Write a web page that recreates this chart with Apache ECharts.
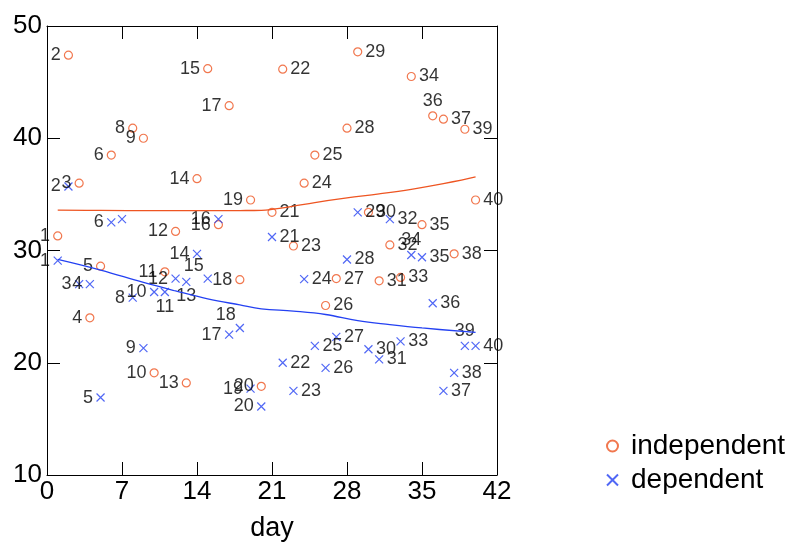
<!DOCTYPE html>
<html>
<head>
<meta charset="utf-8">
<script src="https://cdn.jsdelivr.net/npm/echarts@6/dist/echarts.min.js"></script>
<style>
html,body{margin:0;padding:0;background:#fff;}
#chart{width:789px;height:545px;}
</style>
</head>
<body>
<div id="chart"></div>
<script>
// ---- data ----
const days = [1,2,3,4,5,6,7,8,9,10,11,12,13,14,15,16,17,18,19,20,21,22,23,24,25,26,27,28,29,30,31,32,33,34,35,36,37,38,39,40];
const independent = [31.3,47.4,36.0,24.0,28.6,38.5,null,40.9,40.0,19.1,28.1,31.7,18.2,36.4,46.2,32.3,42.9,27.4,34.5,17.9,33.4,46.15,30.4,36.0,38.5,25.1,27.5,40.9,47.7,33.4,27.3,30.5,27.6,45.5,32.3,42.0,41.7,29.7,40.8,34.5];
const dependent = [29.1,35.7,27.0,27.0,16.9,32.5,32.8,25.8,21.3,26.3,26.3,27.5,27.2,29.7,27.5,32.8,22.5,23.1,17.7,16.1,31.2,20.0,17.5,27.45,21.5,19.55,22.3,29.2,33.4,21.2,20.3,32.8,21.9,29.6,29.4,25.3,17.5,19.1,21.5,21.5];
const indepFitX = [1,5,10,15,18,20,21,22,23,25,28,31,34,37,40];
const indepFitY = [33.6,33.57,33.55,33.55,33.56,33.58,33.66,33.8,33.95,34.27,34.68,35.04,35.45,35.95,36.55];
const depFitX = [1,5,9,12,15,18,20,23,26,29,32,35,40];
const depFitY = [29.2,28.25,27.15,26.4,25.7,25.15,24.8,24.6,24.3,23.75,23.4,23.1,22.7];
const xTicks = [0,7,14,21,28,35,42];
const yTicks = [10,20,30,40,50];
const seriesNames = ['independent','dependent'];
const xName = 'day';

// ---- label placement (style) ----
const indepSide = 'LLLLLLLLLLLLLLLLLLLLRRRRRRRRRRRRRRRTRRRR';
const depSide   = 'LLLLLLNLLLBLBLQLLQLLRRRRRRRRRRRRRTRRRRTR';
const orange = '#EE5522';
const blue = '#2441F2';
const FONT = 'Liberation Sans, Arial, sans-serif';

function labelFor(side){
  const base = {show:true, fontSize:18, color:'#000', fontFamily:FONT, distance:3, formatter:'{b}'};
  switch(side){
    case 'L': return Object.assign(base,{position:'left'});
    case 'R': return Object.assign(base,{position:'right'});
    case 'T': return Object.assign(base,{position:'top', distance:1});
    case 'B': return Object.assign(base,{position:'bottom', distance:1});
    case 'Q': return Object.assign(base,{position:'top', offset:[-14,2], distance:1});
    default: return {show:false};
  }
}
function build(vals, sides){
  const out = [];
  days.forEach((d,i)=>{
    if(vals[i]==null) return;
    out.push({value:[d, vals[i]], name:String(d), label:labelFor(sides[i])});
  });
  return out;
}
const crossPath = 'path://M0,0L10,10M0,10L10,0';

const axisCommon = {
  min: xTicks[0], max: xTicks[xTicks.length-1], interval: 7,
  axisLine:{show:true, onZero:false, lineStyle:{color:'#000', width:1}},
  axisTick:{show:true, inside:true, length:13, lineStyle:{color:'#000', width:1}},
  splitLine:{show:false}
};
const yCommon = {
  min: yTicks[0], max: yTicks[yTicks.length-1], interval: 10,
  axisLine:{show:true, onZero:false, lineStyle:{color:'#000', width:1}},
  axisTick:{show:true, inside:true, length:13, lineStyle:{color:'#000', width:1}},
  splitLine:{show:false}
};

const chart = echarts.init(document.getElementById('chart'), null, {renderer:'canvas'});
chart.setOption({
  animation:false,
  backgroundColor:'#fff',
  grid:{left:47, top:26, width:450, height:449, containLabel:false, outerBoundsMode:'none'},
  legend:{
    orient:'vertical', left:601, top:427, itemGap:6,
    itemWidth:11, itemHeight:11,
    data: seriesNames,
    textStyle:{fontSize:28, color:'#000', fontFamily:FONT, lineHeight:28, padding:[0,0,0,8]}
  },
  xAxis:[
    Object.assign({}, axisCommon, {type:'value', position:'bottom',
      axisLabel:{show:true, fontSize:26, color:'#000', fontFamily:FONT, margin:4},
      name:xName, nameLocation:'middle', nameGap:40,
      nameTextStyle:{fontSize:27, color:'#000', fontFamily:FONT}}),
    Object.assign({}, axisCommon, {type:'value', position:'top', axisLabel:{show:false}})
  ],
  yAxis:[
    Object.assign({}, yCommon, {type:'value', position:'left',
      axisLabel:{show:true, fontSize:26, color:'#000', fontFamily:FONT, margin:5}}),
    Object.assign({}, yCommon, {type:'value', position:'right', axisLabel:{show:false}})
  ],
  series:[
    {name:'indepFit', type:'line', smooth:0.4, showSymbol:false, silent:true,
     lineStyle:{color:orange, width:1.3}, itemStyle:{color:orange},
     data: indepFitX.map((x,i)=>[x, indepFitY[i]])},
    {name:'depFit', type:'line', smooth:0.4, showSymbol:false, silent:true,
     lineStyle:{color:blue, width:1.3}, itemStyle:{color:blue},
     data: depFitX.map((x,i)=>[x, depFitY[i]])},
    {name:seriesNames[0], type:'scatter', symbol:'circle', symbolSize:8,
     itemStyle:{color:'rgba(0,0,0,0)', borderColor:orange, borderWidth:1.2},
     data: build(independent, indepSide)},
    {name:seriesNames[1], type:'scatter', symbol:crossPath, symbolSize:8,
     itemStyle:{color:'rgba(0,0,0,0)', borderColor:blue, borderWidth:1.2},
     data: build(dependent, depSide)}
  ]
});
</script>
</body>
</html>
